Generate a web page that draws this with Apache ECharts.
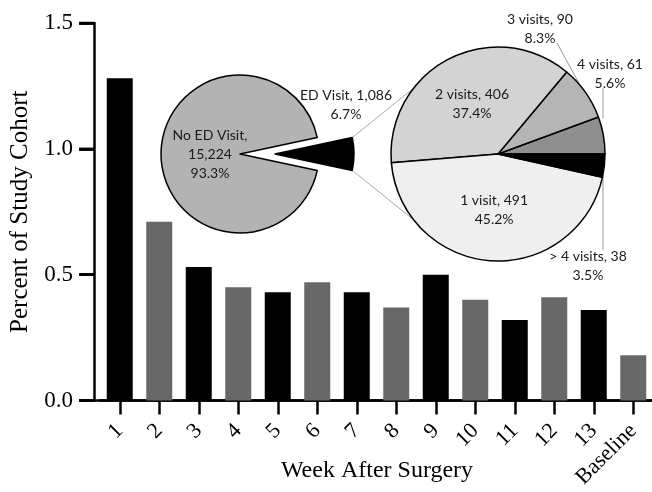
<!DOCTYPE html>
<html><head><meta charset="utf-8">
<script src="https://cdn.jsdelivr.net/npm/echarts@6/dist/echarts.min.js"></script>
<style>html,body{margin:0;padding:0;background:#fff}#c{width:652px;height:492px}</style>
</head><body><div id="c"></div>
<script>
// ---- data ----
const categories = ['1','2','3','4','5','6','7','8','9','10','11','12','13','Baseline'];
const percentCohort = [1.28,0.71,0.53,0.45,0.43,0.47,0.43,0.37,0.50,0.40,0.32,0.41,0.36,0.18];
const yTicks = ['0.0', '0.5', '1.0', '1.5'];
const overviewNames = ['ED Visit', 'No ED Visit'];
const overviewCounts = [1086, 15224];
const visitNames = ['4 visits', '3 visits', '2 visits', '1 visit', '> 4 visits'];
const visitCounts = [61, 90, 406, 491, 38];

// ---- layout/style ----
const serif = 'Liberation Serif';
const sans = 'Lato';
const leftPie = {cx: 240, cy: 154, r: 79, offset: 35};
const rightPie = {cx: 498, cy: 154, r: 107};
const overviewColors = ['#000000', '#b3b3b3'];
const visitColors = ['#8f8f8f', '#b5b5b5', '#d3d3d3', '#efefef', '#000000'];
// label centres and leader lines (label end, pie end) for the outside labels
const visitLabelPos = {0: [610, 74], 1: [540, 29], 4: [588, 266]};
const visitLeader = {0: [[603, 88], [603, 118]], 1: [[557, 43], [581, 87]], 4: [[603, 250], [603, 174]]};
const overviewLabelPos = [[346, 105], [210, 154]];

const fmt = n => n.toLocaleString('en-US');
const chart = echarts.init(document.getElementById('c'), null, {renderer: 'canvas'});

const total = overviewCounts.reduce((a, b) => a + b, 0);
const edDeg = 360 * overviewCounts[0] / total;
const half = Math.PI * overviewCounts[0] / total; // half angle of ED slice (rad)
const p = (cx, cy, r, a) => [cx + r * Math.cos(a), cy - r * Math.sin(a)];
const c1 = p(leftPie.cx + leftPie.offset, leftPie.cy, leftPie.r, half);
const c2 = p(leftPie.cx + leftPie.offset, leftPie.cy, leftPie.r, -half);
const d1 = p(rightPie.cx, rightPie.cy, rightPie.r, 142 * Math.PI / 180);
const d2 = p(rightPie.cx, rightPie.cy, rightPie.r, 218 * Math.PI / 180);

const labelFont = {fontFamily: sans, fontSize: 14, lineHeight: 19, color: '#1a1a1a', overflow: 'none'};
const bigBounds = {left: -300, right: -300, top: -300, bottom: -300};

// overview pie is drawn as two series: the kept part and the exploded ED wedge
const overviewSeries = (which, center) => ({
  type: 'pie', center: center, radius: leftPie.r,
  startAngle: edDeg / 2, clockwise: true,
  percentPrecision: 1, emphasis: {disabled: true}, selectedMode: false,
  label: Object.assign({}, labelFont),
  labelLine: {show: false},
  labelLayout: params => params.dataIndex === which
    ? {x: overviewLabelPos[which][0], y: overviewLabelPos[which][1], align: 'center', verticalAlign: 'middle'}
    : {},
  data: overviewNames.map((n, i) => ({
    name: n, value: overviewCounts[i],
    itemStyle: i === which
      ? {color: overviewColors[i], borderColor: '#000', borderWidth: 1.5}
      : {color: 'rgba(0,0,0,0)', borderWidth: 0},
    label: i === which
      ? {show: true, position: 'inside',
         formatter: i === 0 ? d => `${d.name}, ${fmt(d.value)}\n${d.percent}%`
                            : d => `${d.name},\n${fmt(d.value)}\n${d.percent}%`}
      : {show: false}
  }))
});

const option = {
  animation: false,
  backgroundColor: '#fff',
  grid: [
    {left: 100, width: 553, top: 23, bottom: 91.5, containLabel: false, outerBounds: bigBounds},
    {left: 94, right: -8, top: 23, bottom: 91.5, containLabel: false, outerBounds: bigBounds},
    // narrow strip left of the y axis holding the outward y ticks
    {left: 79, width: 15, top: 23, bottom: 91.5, containLabel: false, outerBounds: bigBounds}
  ],
  xAxis: [{
    type: 'category', gridIndex: 0, data: categories,
    axisLine: {lineStyle: {color: '#000', width: 2.5}},
    axisTick: {show: true, alignWithLabel: true, length: 14, lineStyle: {color: '#000', width: 2.5}},
    axisLabel: {rotate: 45, margin: 27, color: '#000', fontFamily: serif, fontSize: 22, interval: 0}
  }, {
    type: 'value', gridIndex: 1, min: 0, max: 1,
    axisLine: {show: true, lineStyle: {color: '#000', width: 2.5}},
    axisTick: {show: false}, axisLabel: {show: false}, splitLine: {show: false},
    name: 'Week After Surgery', nameLocation: 'middle', nameGap: 58,
    nameTextStyle: {fontFamily: serif, fontSize: 24, color: '#000'}
  }, {
    type: 'value', gridIndex: 2, min: 0, max: 1, show: false
  }],
  yAxis: [{
    type: 'value', gridIndex: 0, min: 0, max: 1.5, interval: 0.5, show: false
  }, {
    // visible axis: evenly spaced tick labels matching the value axis 0..1.5
    type: 'category', gridIndex: 1, data: yTicks, boundaryGap: false,
    axisLine: {show: true, onZero: false, lineStyle: {color: '#000', width: 2.5}},
    axisTick: {show: true, interval: 0, length: 15, lineStyle: {color: '#000', width: 2.5}},
    axisLabel: {interval: 0, margin: 21, color: '#000', fontFamily: serif, fontSize: 23},
    splitLine: {show: false},
    name: 'Percent of Study Cohort', nameLocation: 'middle', nameGap: 59,
    nameTextStyle: {fontFamily: serif, fontSize: 25, color: '#000'}
  }, {
    type: 'value', gridIndex: 2, min: 0, max: 1.5, interval: 0.5,
    axisLine: {show: false}, axisTick: {show: false}, axisLabel: {show: false},
    splitLine: {show: true, showMinLine: true, showMaxLine: true, lineStyle: {color: '#000', width: 2.5}}
  }],
  series: [{
    type: 'bar', xAxisIndex: 0, yAxisIndex: 0,
    data: percentCohort, barWidth: 26,
    itemStyle: {color: params => params.dataIndex % 2 === 0 ? '#000000' : '#686868'},
    emphasis: {disabled: true}
  }, {
    // y-axis tick marks, placed through the strip's value axis
    type: 'scatter', xAxisIndex: 2, yAxisIndex: 2, clip: false, silent: true,
    symbol: 'rect', symbolSize: [15, 2.5], itemStyle: {color: '#000', opacity: 1},
    emphasis: {disabled: true}, z: 10,
    data: yTicks.map(t => [0.5, parseFloat(t)])
  },
  overviewSeries(1, [leftPie.cx, leftPie.cy]),
  overviewSeries(0, [leftPie.cx + leftPie.offset, leftPie.cy]),
  {
    type: 'pie', center: [rightPie.cx, rightPie.cy], radius: rightPie.r,
    startAngle: 0, clockwise: false,
    percentPrecision: 1, emphasis: {disabled: true},
    itemStyle: {borderColor: '#000', borderWidth: 1.5},
    label: Object.assign({formatter: d => `${d.name}, ${fmt(d.value)}\n${d.percent}%`}, labelFont),
    labelLine: {show: true, length: 10, length2: 4, lineStyle: {color: '#999', width: 1}},
    labelLayout: params => {
      const pos = visitLabelPos[params.dataIndex];
      if (!pos) return {};
      const ln = visitLeader[params.dataIndex];
      return {x: pos[0], y: pos[1], align: 'center', verticalAlign: 'middle',
              labelLinePoints: [ln[1], ln[0], ln[0]]};
    },
    data: visitNames.map((n, i) => ({
      name: n, value: visitCounts[i],
      itemStyle: {color: visitColors[i]},
      label: {position: visitLabelPos[i] ? 'outside' : 'inside'},
      labelLine: {show: !!visitLabelPos[i]}
    }))
  }],
  graphic: [
    {type: 'line', z: 0, shape: {x1: c1[0], y1: c1[1], x2: d1[0], y2: d1[1]}, style: {stroke: '#aaa', lineWidth: 1}},
    {type: 'line', z: 0, shape: {x1: c2[0], y1: c2[1], x2: d2[0], y2: d2[1]}, style: {stroke: '#aaa', lineWidth: 1}}
  ]
};
chart.setOption(option);
</script></body></html>
